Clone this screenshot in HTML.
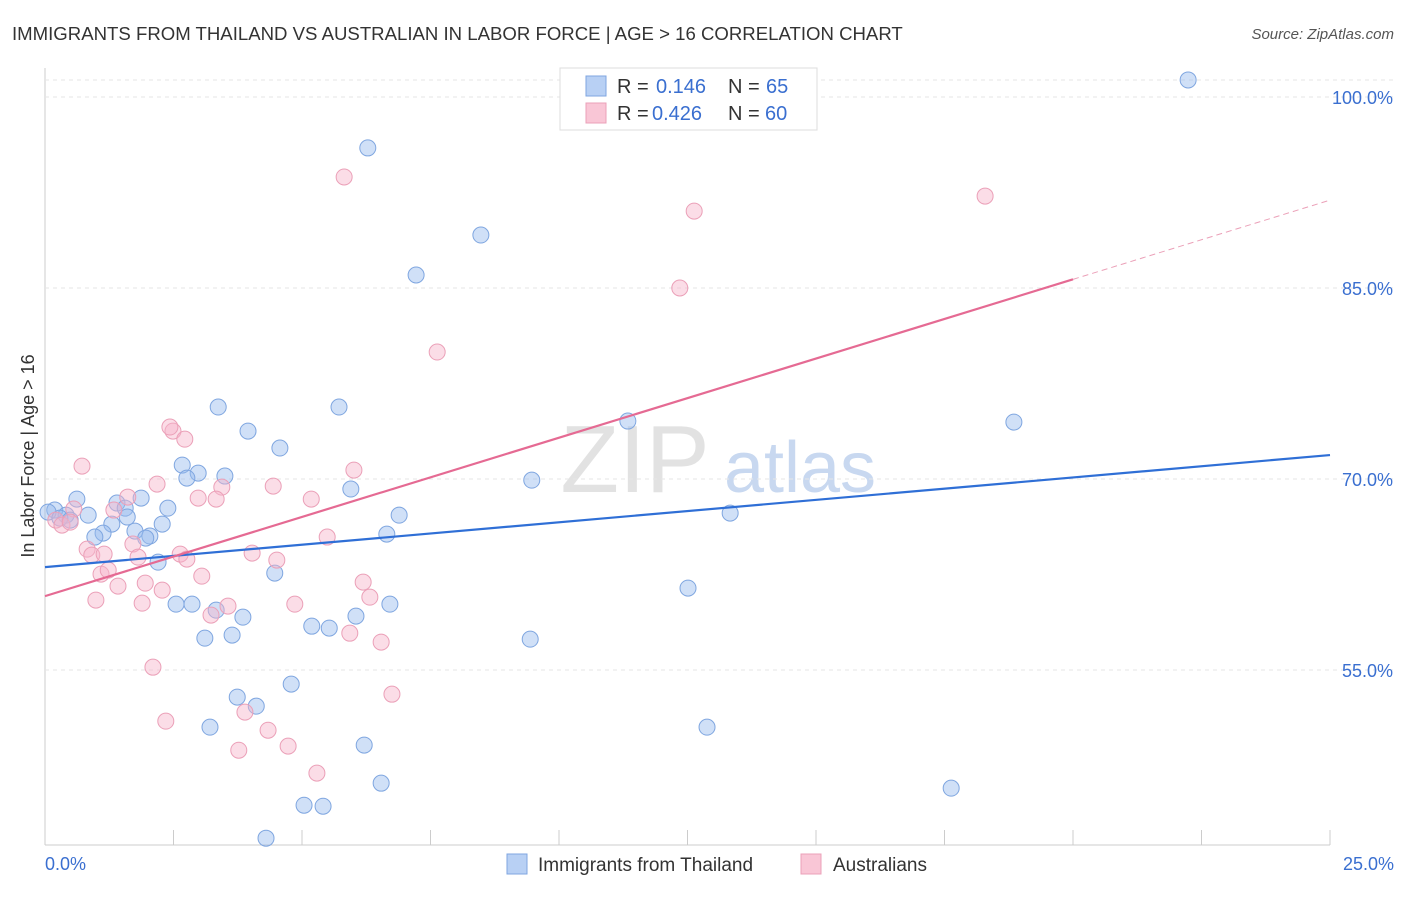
<!DOCTYPE html>
<html><head><meta charset="utf-8"><style>
body{margin:0;background:#fff;font-family:"Liberation Sans",sans-serif}
svg text{font-family:"Liberation Sans",sans-serif}
</style></head><body>
<svg width="1406" height="892" id="c">
<text x="12" y="40" font-size="18.6" fill="#333">IMMIGRANTS FROM THAILAND VS AUSTRALIAN IN LABOR FORCE | AGE &gt; 16 CORRELATION CHART</text>
<text x="1394" y="39" font-size="15" fill="#555" text-anchor="end" font-style="italic">Source: ZipAtlas.com</text>
<text x="34" y="456" font-size="18" fill="#333" text-anchor="middle" transform="rotate(-90 34 456)">In Labor Force | Age &gt; 16</text>
<text x="635" y="492" font-size="96" fill="#e2e2e2" font-family="Liberation Serif" text-anchor="middle">ZIP</text>
<text x="800" y="492" font-size="72" fill="#c8d8f0" text-anchor="middle">atlas</text>
<g id="grid"></g><g id="marks"></g>
<g>
<rect x="560" y="68" width="257" height="62" fill="#fff" stroke="#ddd"/>
<rect x="586" y="76" width="20" height="20" fill="#b8d0f4" stroke="#7fa6e0"/>
<rect x="586" y="103" width="20" height="20" fill="#f9c6d6" stroke="#eba0b8"/>
<g font-size="20" fill="#333">
<text x="617" y="93">R =</text><text x="656" y="93" fill="#3a6fd0">0.146</text><text x="728" y="93">N =</text><text x="766" y="93" fill="#3a6fd0">65</text>
<text x="617" y="120">R =</text><text x="652" y="120" fill="#3a6fd0">0.426</text><text x="728" y="120">N =</text><text x="765" y="120" fill="#3a6fd0">60</text>
</g>
</g>
<g>
<rect x="507" y="854" width="20" height="20" fill="#b8d0f4" stroke="#7fa6e0"/>
<text x="538" y="871" font-size="19" fill="#333">Immigrants from Thailand</text>
<rect x="801" y="854" width="20" height="20" fill="#f9c6d6" stroke="#eba0b8"/>
<text x="833" y="871" font-size="19" fill="#333">Australians</text>
</g>
</svg>
<script>
const yTicks=[100,85,70,55];
const xTickLabels=["0.0%","25.0%"];
const blueX=[22.24,6.28,8.48,7.22,11.34,18.85,3.37,5.72,3.95,4.57,2.67,2.98,3.50,2.76,9.47,5.95,0.62,1.87,1.40,1.56,2.39,0.19,0.41,0.84,6.89,13.33,1.60,1.30,2.28,0.06,0.29,0.49,1.13,0.97,1.75,2.04,6.65,1.96,2.20,4.47,12.51,2.55,2.86,3.33,3.85,6.05,6.71,5.19,5.53,3.11,3.64,9.44,4.79,3.74,4.11,3.21,12.88,6.21,6.54,17.63,5.04,5.41,4.30];
const blueY=[101.34,96.0,89.16,86.02,74.55,74.47,75.65,75.65,73.76,72.43,71.09,70.46,70.23,70.07,69.91,69.21,68.42,68.5,68.11,67.71,67.71,67.56,67.16,67.16,67.16,67.32,67.01,66.46,66.46,67.4,66.93,66.77,65.75,65.44,65.91,65.52,65.67,65.36,63.47,62.61,61.43,60.17,60.17,59.7,59.15,59.23,60.17,58.44,58.29,57.5,57.74,57.42,53.89,52.87,52.16,50.51,50.51,49.1,46.11,45.72,44.38,44.3,41.79];
const pinkX=[5.82,18.29,12.63,12.35,7.63,2.49,2.72,2.43,0.72,6.01,2.18,4.44,3.44,2.98,3.33,5.18,0.56,1.61,1.34,0.21,0.33,0.49,5.49,1.71,0.82,0.91,1.15,1.81,2.63,2.76,4.03,4.51,1.09,1.23,3.05,1.95,1.42,6.19,2.28,6.32,0.99,1.89,4.86,3.56,3.23,5.93,6.54,2.10,6.75,2.35,3.89,4.34,3.77,4.73,5.29];
const pinkY=[93.72,92.22,91.04,85.0,79.97,73.76,73.13,74.08,71.01,70.7,69.6,69.44,69.36,68.5,68.42,68.42,67.64,68.58,67.56,66.77,66.38,66.61,65.44,64.89,64.49,64.02,64.1,63.86,64.1,63.71,64.18,63.63,62.53,62.84,62.37,61.82,61.59,61.9,61.27,60.72,60.49,60.25,60.17,60.02,59.31,57.89,57.19,55.22,53.1,50.98,51.69,50.27,48.7,49.02,46.9];
const blueTrend=[63.08,71.88];
const pinkTrend=[60.8,91.9];
const NS="http://www.w3.org/2000/svg";
const X=v=>45+v*51.4, Y=v=>97+(100-v)*12.733;
function mk(t,a,p){const e=document.createElementNS(NS,t);for(const k in a)e.setAttribute(k,a[k]);p.appendChild(e);return e;}
const g=document.getElementById('grid'), m=document.getElementById('marks');
const ax=mk('line',{x1:45,y1:68,x2:45,y2:845,stroke:'#ccc'},g);


mk('line',{x1:45,y1:80,x2:1394,y2:80,stroke:'#e6e6e6','stroke-dasharray':'4 4'},g);
yTicks.forEach(v=>{
 const l=mk('line',{x1:45,y1:Y(v),x2:1394,y2:Y(v),stroke:'#e6e6e6','stroke-dasharray':'4 4'},g);
 
 
 const t=mk('text',{x:1393,y:Y(v)+7,'font-size':18,fill:'#3a6fd0','text-anchor':'end'},g);t.textContent=v.toFixed(1)+'%';
 
 
});
const bx=mk('line',{x1:45,y1:845,x2:1330,y2:845,stroke:'#ccc'},g);


for(let i=0;i<=10;i++){const tk=mk('line',{x1:X(i*2.5),y1:830,x2:X(i*2.5),y2:845,stroke:'#ccc'},g);
 
 }
const xl0=mk('text',{x:45,y:870,'font-size':18,fill:'#3a6fd0'},g);xl0.textContent=xTickLabels[0];


const xl1=mk('text',{x:1394,y:870,'font-size':18,fill:'#3a6fd0','text-anchor':'end'},g);xl1.textContent=xTickLabels[1];


blueX.forEach((x,i)=>{const c=mk('circle',{cx:X(x),cy:Y(blueY[i]),r:8,fill:'rgba(150,186,238,0.45)',stroke:'#7fa6e0','stroke-width':1},m);
 
 });
pinkX.forEach((x,i)=>{const c=mk('circle',{cx:X(x),cy:Y(pinkY[i]),r:8,fill:'rgba(246,180,202,0.45)',stroke:'#eba0b8','stroke-width':1},m);
 
 });
const bl=mk('line',{x1:X(0),y1:Y(blueTrend[0]),x2:X(25),y2:Y(blueTrend[1]),stroke:'#2f6fd6','stroke-width':2.2},m);


const pv=t=>pinkTrend[0]+(pinkTrend[1]-pinkTrend[0])*t/25;
const pl=mk('line',{x1:X(0),y1:Y(pv(0)),x2:X(20),y2:Y(pv(20)),stroke:'#e56a93','stroke-width':2.2},m);


const pd=mk('line',{x1:X(20),y1:Y(pv(20)),x2:X(25),y2:Y(pv(25)),stroke:'#eba0b8','stroke-width':1,'stroke-dasharray':'6 4'},m);


</script>
</body></html>
